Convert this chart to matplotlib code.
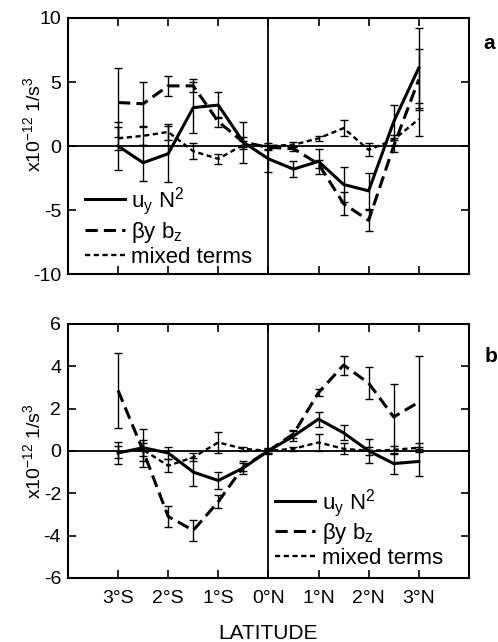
import numpy as np
import matplotlib
matplotlib.use("Agg")
import matplotlib.pyplot as plt
from matplotlib.lines import Line2D

plt.rcParams["font.family"] = ["Liberation Sans", "DejaVu Sans"]
plt.rcParams["mathtext.fontset"] = "custom"
plt.rcParams["mathtext.rm"] = "Liberation Sans"
plt.rcParams["mathtext.it"] = "Liberation Sans"
plt.rcParams["axes.unicode_minus"] = False

lat = [-3, -2.5, -2, -1.5, -1, -0.5, 0, 0.5, 1, 1.5, 2, 2.5, 3]
xtick_pos = [-3, -2, -1, 0, 1, 2, 3]
xtick_lab = ["3°S", "2°S", "1°S", "0°N", "1°N", "2°N", "3°N"]

# panel a
a_uy = [0.0, -1.3, -0.6, 3.0, 3.2, 0.3, -1.0, -1.8, -1.2, -3.0, -3.5, 1.9, 6.1]
a_uy_err = [1.9, 1.4, 2.2, 2.0, 1.0, 1.6, 1.0, 0.6, 1.0, 1.4, 1.4, 1.3, 3.1]
a_by = [3.4, 3.3, 4.7, 4.7, 1.9, 0.3, -0.1, -0.2, -1.4, -4.5, -5.8, 0.0, 5.2]
a_by_err = [2.7, 1.7, 0.8, 0.5, 0.4, 0.4, 0.2, 0.2, 0.3, 0.9, 0.8, 0.5, 2.4]
a_mx = [0.6, 0.8, 1.1, -0.4, -1.0, 0.1, 0.0, 0.1, 0.6, 1.4, -0.3, 0.5, 2.1]
a_mx_err = [0.9, 0.7, 0.6, 0.6, 0.4, 0.3, 0.2, 0.2, 0.2, 0.6, 0.5, 0.4, 1.3]

# panel b
b_uy = [-0.1, 0.15, -0.1, -1.0, -1.4, -0.8, 0.0, 0.7, 1.5, 0.85, 0.0, -0.6, -0.5]
b_uy_err = [0.5, 0.9, 0.3, 0.65, 0.4, 0.3, 0.15, 0.25, 0.35, 0.35, 0.55, 0.5, 0.7]
b_by = [2.85, 0.0, -3.1, -3.75, -2.4, -0.75, 0.0, 0.8, 2.75, 4.05, 3.2, 1.6, 2.3]
b_by_err = [1.75, 0.5, 0.5, 0.5, 0.3, 0.2, 0.1, 0.2, 0.15, 0.45, 0.75, 1.55, 2.2]
b_mx = [-0.05, 0.05, -0.7, -0.3, 0.4, 0.1, 0.0, 0.1, 0.4, 0.1, 0.0, 0.05, 0.15]
b_mx_err = [0.3, 0.3, 0.3, 0.2, 0.5, 0.1, 0.1, 0.1, 0.4, 0.25, 0.2, 0.2, 0.2]

fig = plt.figure(figsize=(4.98, 6.42), dpi=100)
ax_a = fig.add_axes([0.1365, 0.573, 0.805, 0.399])
ax_b = fig.add_axes([0.1365, 0.0997, 0.805, 0.396])

lab_uy = r"$\mathregular{u_y\ N^2}$"
lab_by = r"$\mathregular{\beta y\ b_z}$"
lab_mx = "mixed terms"
ls_by = (0, (4, 2))
ls_mx = (0, (2.2, 1.5))


def draw_panel(ax, uy, uy_e, by, by_e, mx, mx_e):
    kw = dict(color="black", capsize=3, elinewidth=1.0, capthick=1.0)
    ax.errorbar(lat, uy, yerr=uy_e, lw=2.2, ls="-", **kw)
    ax.errorbar(lat, by, yerr=by_e, lw=2.2, ls=ls_by, **kw)
    ax.errorbar(lat, mx, yerr=mx_e, lw=1.7, ls=ls_mx, **kw)
    ax.axhline(0, color="black", lw=1.3)
    ax.axvline(0, color="black", lw=1.3)
    ax.set_xlim(-4, 4)
    ax.set_xticks(xtick_pos)
    ax.tick_params(direction="in", top=True, right=True, length=6, width=1.2,
                   labelsize=14)
    ax.tick_params(axis="y", pad=5)
    ax.tick_params(axis="x", pad=9)
    for s in ax.spines.values():
        s.set_linewidth(1.5)
    ax.set_ylabel(r"x10$^{\mathregular{-12}}$ 1/s$^{\mathregular{3}}$", fontsize=14)


def add_legend(ax, anchor):
    handles = [Line2D([], [], color="black", lw=2.2, ls="-"),
               Line2D([], [], color="black", lw=2.2, ls=ls_by),
               Line2D([], [], color="black", lw=1.7, ls=ls_mx)]
    ax.legend(handles, [lab_uy, lab_by, lab_mx], loc="lower left",
              bbox_to_anchor=anchor, frameon=False, fontsize=16,
              handlelength=1.8, handletextpad=0.3, labelspacing=0.1,
              borderaxespad=0, borderpad=0)


draw_panel(ax_a, a_uy, a_uy_err, a_by, a_by_err, a_mx, a_mx_err)
ax_a.set_ylim(-10, 10)
ax_a.set_yticks([-10, -5, 0, 5, 10])
ax_a.set_xticklabels([])
ax_a.yaxis.set_label_coords(-0.06, 0.585)
add_legend(ax_a, (0.042, 0.025))
ax_a.text(1.035, 0.9, "a", transform=ax_a.transAxes, fontsize=15,
          fontweight="bold", va="center")

draw_panel(ax_b, b_uy, b_uy_err, b_by, b_by_err, b_mx, b_mx_err)
ax_b.set_ylim(-6, 6)
ax_b.set_yticks([-6, -4, -2, 0, 2, 4, 6])
ax_b.set_xticklabels(xtick_lab)
ax_b.set_xlabel("LATITUDE", fontsize=15, labelpad=12)
ax_b.yaxis.set_label_coords(-0.06, 0.5)
add_legend(ax_b, (0.516, 0.035))
ax_b.text(1.04, 0.87, "b", transform=ax_b.transAxes, fontsize=15,
          fontweight="bold", va="center")

fig.savefig("out.png", dpi=100)
